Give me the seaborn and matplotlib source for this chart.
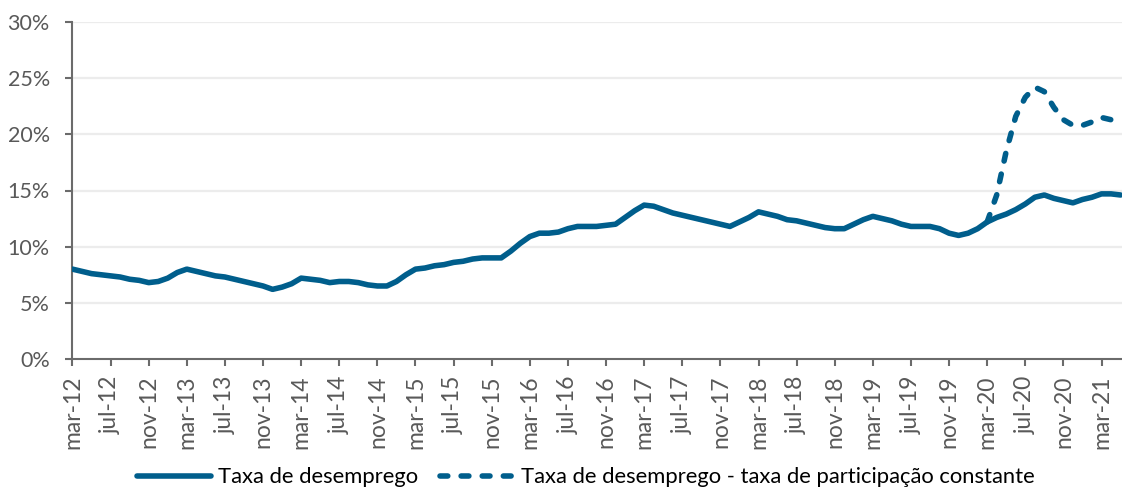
import numpy as np
import pandas as pd
import matplotlib
matplotlib.use("Agg")
import matplotlib.pyplot as plt
from matplotlib.lines import Line2D
import seaborn as sns

# ---- data (monthly, mar-12 .. may-21) ----
taxa_desemprego = [
    8.0, 7.8, 7.6, 7.5, 7.4, 7.3, 7.1, 7.0, 6.8, 6.9,
    7.2, 7.7, 8.0, 7.8, 7.6, 7.4, 7.3, 7.1, 6.9, 6.7, 6.5, 6.2,
    6.4, 6.7, 7.2, 7.1, 7.0, 6.8, 6.9, 6.9, 6.8, 6.6, 6.5, 6.5,
    6.9, 7.5, 8.0, 8.1, 8.3, 8.4, 8.6, 8.7, 8.9, 9.0, 9.0, 9.0,
    9.6, 10.3, 10.9, 11.2, 11.2, 11.3, 11.6, 11.8, 11.8, 11.8, 11.9, 12.0,
    12.6, 13.2, 13.7, 13.6, 13.3, 13.0, 12.8, 12.6, 12.4, 12.2, 12.0, 11.8,
    12.2, 12.6, 13.1, 12.9, 12.7, 12.4, 12.3, 12.1, 11.9, 11.7, 11.6, 11.6,
    12.0, 12.4, 12.7, 12.5, 12.3, 12.0, 11.8, 11.8, 11.8, 11.6, 11.2, 11.0,
    11.2, 11.6, 12.2, 12.6, 12.9, 13.3, 13.8, 14.4, 14.6, 14.3, 14.1, 13.9,
    14.2, 14.4, 14.7, 14.7, 14.6,
]
# constant participation rate scenario, mar-20 .. may-21
taxa_part_constante = [
    12.2, 14.6, 18.5, 21.6, 23.3, 24.2, 23.8, 22.4, 21.3, 20.8,
    20.8, 21.1, 21.5, 21.3, 20.8,
]
tick_labels = [
    "mar-12", "jul-12", "nov-12", "mar-13", "jul-13", "nov-13", "mar-14",
    "jul-14", "nov-14", "mar-15", "jul-15", "nov-15", "mar-16", "jul-16",
    "nov-16", "mar-17", "jul-17", "nov-17", "mar-18", "jul-18", "nov-18",
    "mar-19", "jul-19", "nov-19", "mar-20", "jul-20", "nov-20", "mar-21",
]
series_names = ["Taxa de desemprego",
                "Taxa de desemprego - taxa de participação constante"]

# ---- build frames ----
n = len(taxa_desemprego)
x_all = np.arange(n)
df1 = pd.DataFrame({"x": x_all, "y": np.array(taxa_desemprego) / 100})
m = len(taxa_part_constante)
df2 = pd.DataFrame({"x": np.arange(n - m, n),
                    "y": np.array(taxa_part_constante) / 100})

sns.set_theme(style="white")
plt.rcParams["font.family"] = ["Lato", "DejaVu Sans"]

color = "#005E8C"
grey_txt = "#595959"
spine_c = "#6b6b6b"
lw = 4.0
dash = (0, (1.4, 2.4))

fig = plt.figure(figsize=(11.22, 4.88), dpi=100)
ax = fig.add_axes([72 / 1122, 1 - 359 / 488, 1 - 72 / 1122, (359 - 22) / 488])

for yv in np.arange(0.05, 0.301, 0.05):
    ax.axhline(yv, color="#ececec", lw=1.6, zorder=0)

sns.lineplot(data=df2, x="x", y="y", ax=ax, color=color, linewidth=lw,
             linestyle=dash, dash_capstyle="round", zorder=3)
sns.lineplot(data=df1, x="x", y="y", ax=ax, color=color, linewidth=lw,
             solid_capstyle="round", solid_joinstyle="round", zorder=4)

ax.set_xlim(-0.05, 110.15)
ax.set_ylim(0, 0.30)
ax.set_yticks(np.arange(0, 0.301, 0.05))
ax.set_yticklabels([f"{int(round(v * 100))}%" for v in np.arange(0, 0.301, 0.05)])
ax.set_xticks(np.arange(0, 4 * len(tick_labels), 4))
ax.set_xticklabels(tick_labels, rotation=90)
ax.set_xlabel("")
ax.set_ylabel("")

for s in ["top", "right"]:
    ax.spines[s].set_visible(False)
for s in ["left", "bottom"]:
    ax.spines[s].set_color(spine_c)
    ax.spines[s].set_linewidth(1.5)

ax.tick_params(axis="y", which="major", direction="out", length=5, width=1.5,
               color=spine_c, labelcolor=grey_txt, labelsize=15.5, pad=11, left=True)
ax.tick_params(axis="x", which="major", direction="out", length=5, width=1.5,
               color=spine_c, labelcolor=grey_txt, labelsize=16.5, pad=7, bottom=True)

handles = [
    Line2D([], [], color=color, lw=lw, solid_capstyle="round"),
    Line2D([], [], color=color, lw=lw, linestyle=dash, dash_capstyle="round"),
]
fig.legend(handles, series_names, loc="center", bbox_to_anchor=(0.522, 0.022),
           ncol=2, frameon=False, fontsize=15.8, handlelength=3.4,
           handletextpad=0.3, columnspacing=1.0, labelcolor="black")

fig.savefig("out.png", dpi=100)
